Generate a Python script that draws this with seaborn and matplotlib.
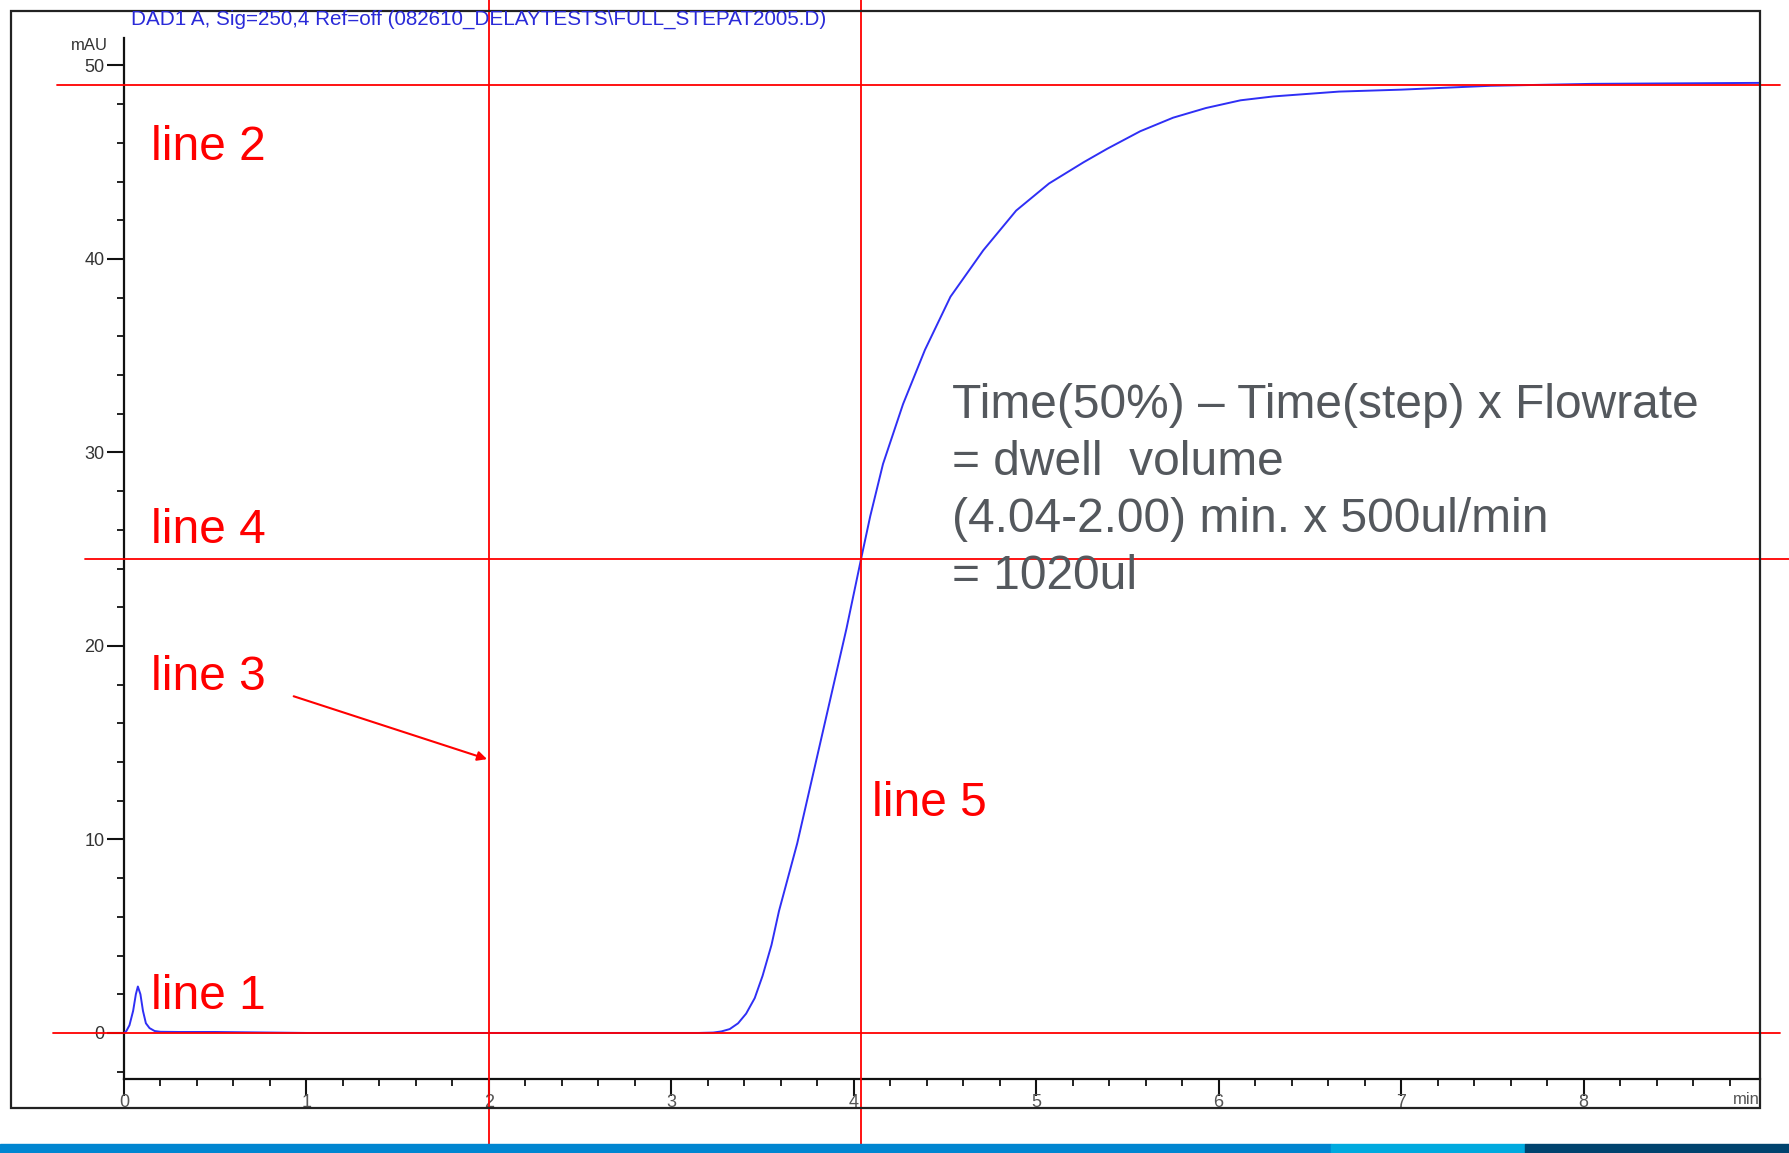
import numpy as np
import pandas as pd
import matplotlib
matplotlib.use("Agg")
import matplotlib.pyplot as plt
import seaborn as sns
from matplotlib import transforms
from matplotlib.patches import Rectangle
from matplotlib.ticker import FixedLocator, MultipleLocator

# ---------------- data ----------------
time_min = [0.0, 0.013, 0.03, 0.05, 0.065, 0.076, 0.09, 0.104, 0.12, 0.14, 0.168,
            0.2, 0.3, 0.5, 0.8, 1.0, 1.5, 2.0, 2.5, 3.0, 3.15, 3.23, 3.275, 3.32,
            3.366, 3.41, 3.457, 3.50, 3.549, 3.59, 3.69, 3.78, 3.87, 3.96, 4.04,
            4.09, 4.16, 4.27, 4.39, 4.53, 4.71, 4.89, 5.07, 5.26, 5.39, 5.57,
            5.75, 5.93, 6.12, 6.30, 6.66, 7.0, 7.49, 8.05, 8.96]
signal_mau = [0.0, 0.1, 0.4, 1.14, 2.0, 2.4, 2.0, 1.14, 0.5, 0.25, 0.1,
              0.06, 0.05, 0.05, 0.02, 0.0, 0.0, 0.0, 0.0, 0.0, 0.0, 0.02, 0.08, 0.2,
              0.5, 1.0, 1.8, 2.95, 4.55, 6.3, 9.8, 13.5, 17.2, 20.9, 24.5,
              26.7, 29.4, 32.5, 35.3, 38.05, 40.45, 42.5, 43.9, 45.0, 45.7, 46.6,
              47.3, 47.8, 48.2, 48.4, 48.65, 48.75, 48.95, 49.05, 49.1]

# reference lines: horizontal levels (mAU) and vertical times (min)
h_levels = [49.0, 24.5, 0.0]          # line 2, line 4, line 1
v_times = [2.00, 4.04]                # line 3, line 5

line_labels = ["line 2", "line 4", "line 3", "line 1", "line 5"]
line_label_pos = [(0.15, 45.1), (0.15, 25.3), (0.15, 17.7), (0.15, 1.24), (4.10, 11.2)]

arrow_from = (0.93, 17.4)
arrow_to = (1.99, 14.15)

formula_lines = ["Time(50%) \u2013 Time(step) x Flowrate",
                 "= dwell  volume",
                 "(4.04-2.00) min. x 500ul/min",
                 "= 1020ul"]

title = "DAD1 A, Sig=250,4 Ref=off (082610_DELAYTESTS\\FULL_STEPAT2005.D)"
x_ticks = [0, 1, 2, 3, 4, 5, 6, 7, 8]
y_ticks = [0, 10, 20, 30, 40, 50]

# ---------------- figure ----------------
sns.set_theme(style="ticks")
plt.rcParams["font.family"] = ["Liberation Sans", "DejaVu Sans"]

W, H = 1789, 1153
fig = plt.figure(figsize=(W / 100, H / 100), dpi=100)
fig.patch.set_facecolor("white")

ax_left, ax_right, ax_top, ax_bottom = 124, 1760, 37.6, 1079
ax = fig.add_axes([ax_left / W, 1 - ax_bottom / H,
                   (ax_right - ax_left) / W, (ax_bottom - ax_top) / H])
ax.set_facecolor("none")

df = pd.DataFrame({"time": time_min, "signal": signal_mau})
sns.lineplot(data=df, x="time", y="signal", ax=ax, color="#2f2ff5",
             linewidth=1.4, sort=False, zorder=3)

ax.set_xlim(0, 8.967)
ax.set_ylim(-2.38, 51.44)
ax.set_xlabel("")
ax.set_ylabel("")

for s in ["top", "right"]:
    ax.spines[s].set_visible(False)
for s in ["left", "bottom"]:
    ax.spines[s].set_color("#111111")
    ax.spines[s].set_linewidth(1.6)

ax.xaxis.set_major_locator(FixedLocator(x_ticks))
ax.xaxis.set_minor_locator(MultipleLocator(0.2))
ax.yaxis.set_major_locator(FixedLocator(y_ticks))
ax.yaxis.set_minor_locator(MultipleLocator(2))
ax.set_xticklabels([str(t) for t in x_ticks])
ax.set_yticklabels([str(t) for t in y_ticks])

ax.tick_params(axis="x", which="major", direction="out", length=12, width=1.5,
               color="#111111", labelsize=13, labelcolor="#555555", pad=-1)
ax.tick_params(axis="x", which="minor", direction="out", length=5, width=1.3,
               color="#111111")
ax.tick_params(axis="y", which="major", direction="out", length=12, width=1.5,
               color="#111111", labelsize=13, labelcolor="#333333", pad=2)
ax.tick_params(axis="y", which="minor", direction="out", length=5, width=1.3,
               color="#111111")

fig.text(108 / W, 1 - 46 / H, "mAU", ha="right", va="center", fontsize=12,
         color="#333333")
fig.text(1760 / W, 1 - 1100 / H, "min", ha="right", va="center", fontsize=12,
         color="#555555")
fig.text(131 / W, 1 - 25 / H, title, ha="left", va="baseline", fontsize=14.9,
         color="#2a2ad8")

# outer frame of the chromatogram
fig.patches.append(Rectangle((11 / W, 1 - 1108 / H), (1760 - 11) / W, (1108 - 11) / H,
                             transform=fig.transFigure, fill=False,
                             edgecolor="#222222", linewidth=1.6, zorder=1))

# bottom colour band
band = [(0, 1331, "#0086d1"), (1331, 1525, "#00aadf"), (1525, 1789, "#00436e")]
for x0, x1, c in band:
    fig.patches.append(Rectangle((x0 / W, 0), (x1 - x0) / W, 9 / H,
                                 transform=fig.transFigure, color=c, zorder=2))

# red reference lines
h_extents = [(57, 1780), (85, 1789), (53, 1780)]
blend_h = transforms.blended_transform_factory(fig.transFigure, ax.transData)
for lvl, (x0, x1) in zip(h_levels, h_extents):
    ax.plot([x0 / W, x1 / W], [lvl, lvl], transform=blend_h, color="#ff0000",
            linewidth=1.3, clip_on=False, zorder=6)
blend_v = transforms.blended_transform_factory(ax.transData, fig.transFigure)
for t in v_times:
    ax.plot([t, t], [0, 1], transform=blend_v, color="#ff0000",
            linewidth=1.3, clip_on=False, zorder=6)

for lab, (x, y) in zip(line_labels, line_label_pos):
    ax.text(x, y, lab, color="#ff0000", fontsize=34.5, ha="left", va="baseline",
            zorder=7)

ax.annotate("", xy=arrow_to, xytext=arrow_from,
            arrowprops=dict(arrowstyle="-|>", color="#ff0000", lw=1.5,
                            mutation_scale=14, shrinkA=0, shrinkB=0), zorder=7)

# formula block
f_x, f_y0, f_dy = 4.54, 31.8, 2.95
for i, ln in enumerate(formula_lines):
    ax.text(f_x, f_y0 - i * f_dy, ln, color="#54585d", fontsize=34.5,
            ha="left", va="baseline", zorder=7)

fig.savefig("out.png", dpi=100, facecolor="white")
